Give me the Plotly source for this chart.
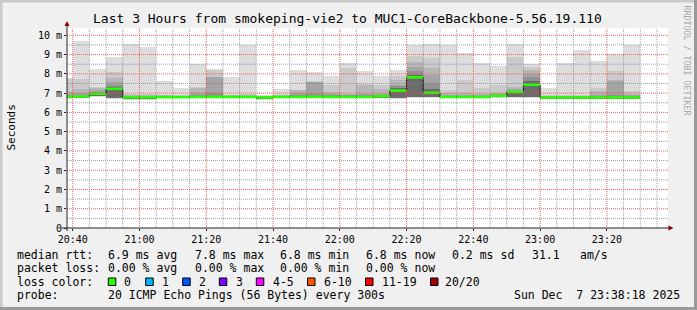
import plotly.graph_objects as go
import pandas as pd

# ---------------- data ----------------
bin_start = pd.date_range("2025-12-07 20:35", periods=35, freq="5min")

median = [6.82, 6.82, 6.97, 7.22, 6.79, 6.79, 6.79, 6.79, 6.80, 6.80, 6.80, 6.80,
          6.78, 6.80, 6.80, 6.81, 6.80, 6.80, 6.80, 6.84, 7.13, 7.82, 7.02, 6.80,
          6.80, 6.80, 6.86, 7.06, 7.43, 6.77, 6.77, 6.77, 6.77, 6.77, 6.77]
rtt_max = [7.76, 9.73, 8.26, 8.90, 9.55, 9.40, 7.65, 7.29, 8.53, 8.27, 7.86, 9.50,
           6.88, 7.23, 8.20, 8.11, 7.91, 8.57, 8.15, 7.90, 8.20, 9.50, 9.55, 9.50,
           9.08, 8.55, 8.43, 9.55, 8.50, 7.28, 8.55, 9.24, 8.67, 9.03, 9.50]
rtt_u2 = [7.72, 7.74, 7.34, 8.08, 6.95, 6.95, 6.92, 6.90, 7.34, 8.20, 6.92, 6.95,
          6.84, 6.92, 7.17, 7.62, 7.40, 8.33, 7.46, 7.43, 7.91, 8.93, 8.81, 7.17,
          7.69, 7.25, 7.42, 8.90, 8.38, 6.90, 6.90, 6.90, 7.29, 8.15, 7.12]
rtt_u3 = [7.10, 7.20, 7.28, 7.77, 6.90, 6.90, 6.88, 6.87, 7.25, 7.86, 6.88, 6.90,
          6.82, 6.88, 7.15, 7.60, 7.05, 6.98, 7.44, 7.20, 7.69, 8.64, 8.33, 7.00,
          7.00, 6.95, 7.00, 7.34, 8.20, 6.86, 6.86, 6.86, 7.10, 7.69, 6.95]
rtt_u4 = [6.95, 7.00, 7.17, 7.60, 6.86, 6.86, 6.85, 6.85, 7.00, 7.83, 6.86, 6.86,
          6.81, 6.86, 7.00, 7.58, 6.95, 6.92, 6.98, 6.98, 7.43, 8.38, 7.95, 6.92,
          6.92, 6.90, 6.95, 7.20, 7.98, 6.83, 6.83, 6.83, 6.92, 7.65, 6.88]
rtt_u5 = [6.88, 6.90, 7.05, 7.43, 6.84, 6.84, 6.83, 6.83, 6.90, 7.00, 6.84, 6.84,
          6.80, 6.84, 6.90, 6.95, 6.88, 6.88, 6.90, 6.92, 7.35, 8.15, 7.51, 6.86,
          6.86, 6.86, 6.90, 7.10, 7.86, 6.81, 6.81, 6.81, 6.85, 6.90, 6.83]
rtt_core = [6.85, 6.86, 7.00, 7.34, 6.82, 6.82, 6.81, 6.81, 6.84, 6.86, 6.82, 6.82,
            6.79, 6.82, 6.84, 6.85, 6.84, 6.84, 6.84, 6.88, 7.25, 7.95, 7.20, 6.83,
            6.83, 6.83, 6.88, 7.08, 7.65, 6.79, 6.79, 6.79, 6.80, 6.82, 6.80]
rtt_low = [6.78, 6.78, 6.86, 6.76, 6.74, 6.72, 6.76, 6.76, 6.76, 6.76, 6.76, 6.76,
           6.70, 6.76, 6.76, 6.76, 6.76, 6.76, 6.76, 6.78, 6.77, 6.82, 6.80, 6.76,
           6.76, 6.76, 6.80, 6.80, 6.80, 6.74, 6.74, 6.74, 6.74, 6.74, 6.74]
rtt_min = [6.70, 6.74, 6.80, 6.72, 6.64, 6.62, 6.74, 6.74, 6.74, 6.74, 6.74, 6.74,
           6.65, 6.74, 6.74, 6.74, 6.74, 6.74, 6.74, 6.75, 6.72, 6.75, 6.75, 6.74,
           6.74, 6.74, 6.76, 6.76, 6.76, 6.72, 6.72, 6.72, 6.72, 6.72, 6.72]

x_tick_times = pd.date_range("2025-12-07 20:40", "2025-12-07 23:20", freq="20min")
x_tick_labels = ["20:40", "21:00", "21:20", "21:40", "22:00", "22:20", "22:40", "23:00", "23:20"]
y_tick_vals = [0, 1, 2, 3, 4, 5, 6, 7, 8, 9, 10]
y_tick_labels = ["0", "1 m", "2 m", "3 m", "4 m", "5 m", "6 m", "7 m", "8 m", "9 m", "10 m"]

title_text = "Last 3 Hours from smokeping-vie2 to MUC1-CoreBackbone-5.56.19.110"
loss_labels = ["0", "1", "2", "3", "4-5", "6-10", "11-19", "20/20"]
loss_colors = ["#26ff00", "#00b8ff", "#0059ff", "#7e00ff", "#ff00ff", "#ff5500", "#ff0000", "#a10000"]

t_start = pd.Timestamp("2025-12-07 20:38:18")
t_end = pd.Timestamp("2025-12-07 23:38:18")

# ---------------- geometry ----------------
W, H = 697, 310
L, R, T, B = 67, 29, 28, 82
PW, PH = W - L - R, H - T - B
Y_MAX = 10.38


def px(x):
    return (x - L) / PW


def py(y):
    return (H - B - y) / PH


MONO = "DejaVu Sans Mono"
fig = go.Figure()

# smoke layers
step = pd.Timedelta("5min")
centers = bin_start + step / 2
layers = [
    (rtt_min, rtt_max, "#dddddd"),
    (rtt_low, rtt_u2, "#cacaca"),
    (rtt_low, rtt_u3, "#b7b7b7"),
    (rtt_low, rtt_u4, "#a4a4a4"),
    (rtt_low, rtt_u5, "#919191"),
    (rtt_low, rtt_core, "#6b6b6b"),
]
for lo, hi, col in layers:
    fig.add_trace(go.Bar(
        x=centers, base=lo, y=[h - l for h, l in zip(hi, lo)],
        width=step.total_seconds() * 1000,
        marker=dict(color=col, line=dict(width=0)),
        hoverinfo="skip", showlegend=False))

# black step outline of median
sx = list(bin_start) + [bin_start[-1] + step]
sy = list(median) + [median[-1]]
fig.add_trace(go.Scatter(x=sx, y=sy, mode="lines",
                         line=dict(shape="hv", color="#000000", width=1),
                         hoverinfo="skip", showlegend=False))
# green median segments
gx, gy = [], []
for s, m in zip(bin_start, median):
    gx += [s, s + step, None]
    gy += [m, m, None]
fig.add_trace(go.Scatter(x=gx, y=gy, mode="lines",
                         line=dict(color=loss_colors[0], width=2.6),
                         hoverinfo="skip", showlegend=False))

shapes = []
MAJ = "rgba(240,70,70,0.85)"
MIN = "rgba(130,130,130,0.75)"
# grid (drawn above data like rrdtool)
minor_v = pd.date_range("2025-12-07 20:40", "2025-12-07 23:35", freq="5min")
major_set = set(x_tick_times)
for t in minor_v:
    major = t in major_set
    shapes.append(dict(type="line", xref="x", yref="paper", x0=t, x1=t, y0=0, y1=1,
                       layer="above",
                       line=dict(color=MAJ if major else MIN, width=1, dash="1px,1px")))
for k in range(1, 21):
    v = k * 0.5
    major = (k % 2 == 0)
    shapes.append(dict(type="line", xref="paper", yref="y", x0=0, x1=1, y0=v, y1=v,
                       layer="above",
                       line=dict(color=MAJ if major else MIN, width=1, dash="1px,1px")))

# axes lines + arrows
AX = "#222222"
ARW = "#8b0000"
shapes.append(dict(type="line", xref="paper", yref="paper", x0=px(67), x1=px(67),
                   y0=py(231), y1=py(25), line=dict(color=AX, width=1), layer="above"))
shapes.append(dict(type="line", xref="paper", yref="paper", x0=px(62), x1=px(670),
                   y0=py(228), y1=py(228), line=dict(color=AX, width=1), layer="above"))
shapes.append(dict(type="path", xref="paper", yref="paper", layer="above",
                   path=f"M {px(64.5)},{py(26)} L {px(69.5)},{py(26)} L {px(67)},{py(21)} Z",
                   fillcolor=ARW, line=dict(width=0)))
shapes.append(dict(type="path", xref="paper", yref="paper", layer="above",
                   path=f"M {px(668.5)},{py(225.5)} L {px(668.5)},{py(230.5)} L {px(673.5)},{py(228)} Z",
                   fillcolor=ARW, line=dict(width=0)))

# frame bevel
shapes += [
    dict(type="rect", xref="paper", yref="paper", x0=px(0), x1=px(W), y0=py(0), y1=py(2.5),
         fillcolor="#cbcbcb", line=dict(width=0), layer="above"),
    dict(type="rect", xref="paper", yref="paper", x0=px(0), x1=px(2.5), y0=py(0), y1=py(H),
         fillcolor="#cbcbcb", line=dict(width=0), layer="above"),
    dict(type="rect", xref="paper", yref="paper", x0=px(W - 3), x1=px(W), y0=py(0), y1=py(H),
         fillcolor="#999999", line=dict(width=0), layer="above"),
    dict(type="rect", xref="paper", yref="paper", x0=px(0), x1=px(W), y0=py(H - 3), y1=py(H),
         fillcolor="#999999", line=dict(width=0), layer="above"),
]

annotations = []


def txt(x, y, s, size=11.5, color="#000000", anchor="left", angle=0, font=MONO):
    annotations.append(dict(x=px(x), y=py(y), xref="paper", yref="paper", text=s,
                            showarrow=False, xanchor=anchor, yanchor="middle",
                            textangle=angle, borderpad=0,
                            font=dict(family=font, size=size, color=color)))


NB = "\u00a0"
txt(347.5, 18.5, title_text.replace(" ", NB), size=13, anchor="center")
txt(11, 127.5, "Seconds", size=11, angle=-90, anchor="center")
txt(686.5, 60, ("RRDTOOL / TOBI OETIKER").replace(" ", NB), size=8.3, color="#a8a8a8",
    angle=90, anchor="center")

row1 = [(16, "median rtt:"), (107.3, "6.9 ms avg"), (193.8, "7.8 ms max"), (279.3, "6.8 ms min"),
        (365, "6.8 ms now"), (451, "0.2 ms sd"), (530.7, "31.1"), (579.3, "am/s")]
row2 = [(16, "packet loss:"), (107.3, "0.00 % avg"), (193.8, "0.00 % max"), (279.3, "0.00 % min"),
        (365, "0.00 % now")]
row4 = [(16, "probe:"), (107.3, "20 ICMP Echo Pings (56 Bytes) every 300s"),
        (513.3, "Sun Dec  7 23:38:18 2025")]
for x, s in row1:
    txt(x, 255, s.replace(" ", NB))
for x, s in row2:
    txt(x, 267.7, s.replace(" ", NB))
for x, s in row4:
    txt(x, 295, s.replace(" ", NB))
txt(16, 282, "loss color:".replace(" ", NB))
sq_x = [108.3, 145.7, 182.7, 219.3, 256.3, 307.5, 365.5, 430.5]
lab_x = [123.3, 161, 197.7, 235, 271.7, 322.7, 380.7, 444.3]
for sx0, lx, lab, col in zip(sq_x, lab_x, loss_labels, loss_colors):
    shapes.append(dict(type="rect", xref="paper", yref="paper",
                       x0=px(sx0), x1=px(sx0 + 7.5), y0=py(278), y1=py(285.5),
                       fillcolor=col, line=dict(color="#000000", width=1), layer="above"))
    txt(lx, 282, lab)

fig.update_layout(
    width=W, height=H,
    margin=dict(l=L, r=R, t=T, b=B, pad=0),
    paper_bgcolor="#f0f0f0", plot_bgcolor="#ffffff",
    barmode="overlay", bargap=0, showlegend=False,
    shapes=shapes, annotations=annotations,
    xaxis=dict(type="date", range=[t_start, t_end], showgrid=False, zeroline=False,
               showline=False, tickvals=list(x_tick_times), ticktext=x_tick_labels,
               ticks="outside", ticklen=2, tickcolor=AX,
               tickfont=dict(family=MONO, size=10, color="#000000")),
    yaxis=dict(range=[0, Y_MAX], showgrid=False, zeroline=False, showline=False,
               tickvals=y_tick_vals, ticktext=y_tick_labels,
               ticks="outside", ticklen=2, tickcolor=AX,
               tickfont=dict(family=MONO, size=10, color="#000000")),
)

fig.write_html("out.html")
